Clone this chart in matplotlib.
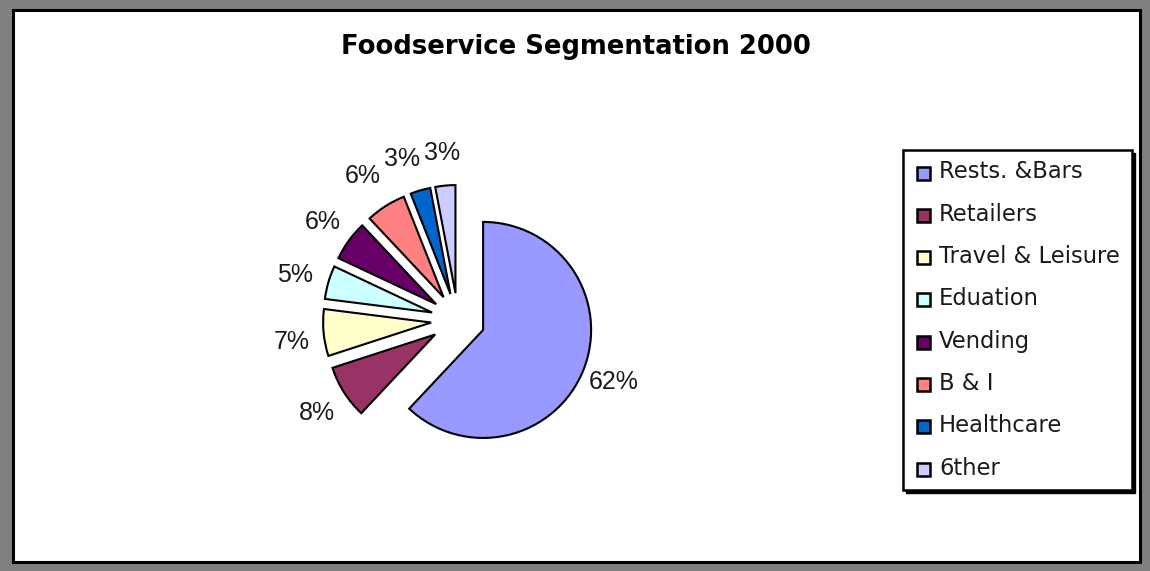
import matplotlib
matplotlib.use('Agg')
import matplotlib.pyplot as plt
from matplotlib.patches import Rectangle

categories = ["Rests. &Bars", "Retailers", "Travel & Leisure", "Eduation",
              "Vending", "B & I", "Healthcare", "6ther"]
shares = [62, 8, 7, 5, 6, 6, 3, 3]
colors = ["#9999FF", "#993366", "#FFFFCC", "#CCFFFF",
          "#660066", "#FF8080", "#0066CC", "#CCCCFF"]
title = "Foodservice Segmentation 2000"

W, H = 1150, 571
fig = plt.figure(figsize=(W / 100, H / 100), dpi=100, facecolor='#808080')
ax = fig.add_axes([0, 0, 1, 1])
ax.patch.set_visible(False)

# white chart panel with black frame
ax.add_patch(Rectangle((12.5, 9.5), 1127, 552, facecolor='white',
                       edgecolor='black', lw=2.2, zorder=0))

wedges, texts, autotexts = ax.pie(
    shares, colors=colors, startangle=90, counterclock=False,
    center=(458, 251), radius=108, explode=[27] * len(shares),
    autopct=lambda p: f'{p:.0f}%', pctdistance=1.3,
    wedgeprops=dict(edgecolor='black', linewidth=1.5),
    textprops=dict(fontsize=18, family='Liberation Sans', color='#1a1a1a'),
    frame=True)

# small nudges of crowded labels (pixel offsets)
nudges = {5: (-6, 3), 6: (-9, 0), 3: (-2, -2), 2: (0, -6), 1: (0, -3)}
for idx, (dx, dy) in nudges.items():
    x, y = autotexts[idx].get_position()
    autotexts[idx].set_position((x + dx, y + dy))

ax.set_xlim(0, W)
ax.set_ylim(0, H)
ax.set_axis_off()

ax.text(576, H - 47, title, ha='center', va='center', fontsize=18.6,
        fontweight='bold', family='DejaVu Sans', color='black')

# legend box with shadow
lx0, ly_top, lx1, ly_bot = 903, 150, 1132, 490
ax.add_patch(Rectangle((lx0 + 3, H - ly_bot - 3), lx1 - lx0, ly_bot - ly_top,
                       facecolor='black', edgecolor='black', lw=1, zorder=3))
ax.add_patch(Rectangle((lx0, H - ly_bot), lx1 - lx0, ly_bot - ly_top,
                       facecolor='white', edgecolor='black', lw=1.8, zorder=4))
for i, (lab, col) in enumerate(zip(categories, colors)):
    yc = H - (173 + 42.3 * i)
    ax.add_patch(Rectangle((917, yc - 6.5), 13, 13, facecolor=col,
                           edgecolor='black', lw=1.8, zorder=5))
    ax.text(939, yc + 1, lab, ha='left', va='center', fontsize=16.3,
            family='DejaVu Sans', color='#1a1a1a', zorder=6)

fig.savefig('out.png', dpi=100, facecolor=fig.get_facecolor())
